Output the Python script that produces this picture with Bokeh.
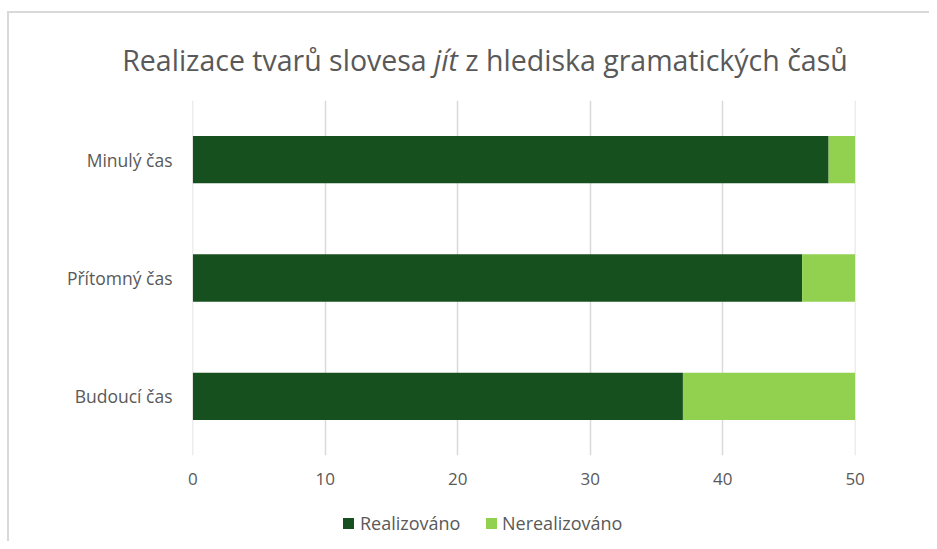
from bokeh.plotting import figure
from bokeh.models import FactorRange, Range1d, FixedTicker, Div
from bokeh.layouts import column
from bokeh.embed import file_html
from bokeh.resources import INLINE

categories = ["Budoucí čas", "Přítomný čas", "Minulý čas"]
realizovano = [37, 46, 48]
nerealizovano = [13, 4, 2]
series = ["Realizováno", "Nerealizováno"]
colors = ["#17501F", "#92D050"]
x_ticks = [0, 10, 20, 30, 40, 50]
title_parts = ["Realizace tvarů slovesa ", "jít", " z hlediska gramatických časů"]

FONT = "Open Sans"
TXT = "#595959"
W = 929

# title
title_html = (f'<div style="position:absolute;left:0;top:42px;width:970px;text-align:center;'
              f'font-family:\'{FONT}\';font-size:28.5px;line-height:36px;color:{TXT};white-space:nowrap">'
              f'{title_parts[0]}<i>{title_parts[1]}</i>{title_parts[2]}</div>')
title_div = Div(text=title_html, width=W, height=86, margin=0, styles={"overflow": "visible"})

p = figure(width=W, height=414, y_range=FactorRange(*categories), x_range=Range1d(-0.03, 50.03),
           output_backend="svg", toolbar_location=None, margin=0,
           min_border_left=192, min_border_right=74, min_border_top=14, min_border_bottom=45)
p.border_fill_color = None
p.outline_line_color = None

data = {"cat": categories, "Realizováno": realizovano, "Nerealizováno": nerealizovano}
p.hbar_stack(series, y="cat", height=0.4, color=colors, source=data, line_color=None)

p.xaxis.ticker = FixedTicker(ticks=x_ticks)
for ax in (p.xaxis[0], p.yaxis[0]):
    ax.axis_line_color = None
    ax.major_tick_line_color = None
    ax.minor_tick_line_color = None
    ax.major_label_text_font = FONT
    ax.major_label_text_color = TXT
p.xaxis.major_label_text_font_size = "17px"
p.yaxis.major_label_text_font_size = "17.5px"
p.xaxis.major_label_standoff = 11
p.yaxis.major_label_standoff = 14
p.xgrid.grid_line_color = "#d9d9d9"
p.xgrid.grid_line_width = 1.5
p.ygrid.grid_line_color = None

# legend
sq_left = [343, 486]
txt_left = [360, 502]
items = ""
for s, c, sl, tl in zip(series, colors, sq_left, txt_left):
    items += (f'<span style="position:absolute;left:{sl}px;top:18px;width:11px;height:11px;background:{c}"></span>'
              f'<span style="position:absolute;left:{tl}px;top:12px;line-height:22px;white-space:nowrap">{s}</span>')
legend_html = (f'<div style="position:relative;width:{W}px;height:41px;font-family:\'{FONT}\';'
               f'font-size:18px;color:{TXT}">{items}</div>')
legend_div = Div(text=legend_html, width=W, height=41, margin=0)

layout = column(title_div, p, legend_div, spacing=0, width=W, height=541, margin=0)
layout.styles = {"background": "linear-gradient(#d9d9d9,#d9d9d9) 7px 11px / 2px 700px no-repeat, "
                               "linear-gradient(#d9d9d9,#d9d9d9) 7px 11px / 1200px 2px no-repeat, white"}

open("out.html", "w").write(file_html(layout, INLINE))
